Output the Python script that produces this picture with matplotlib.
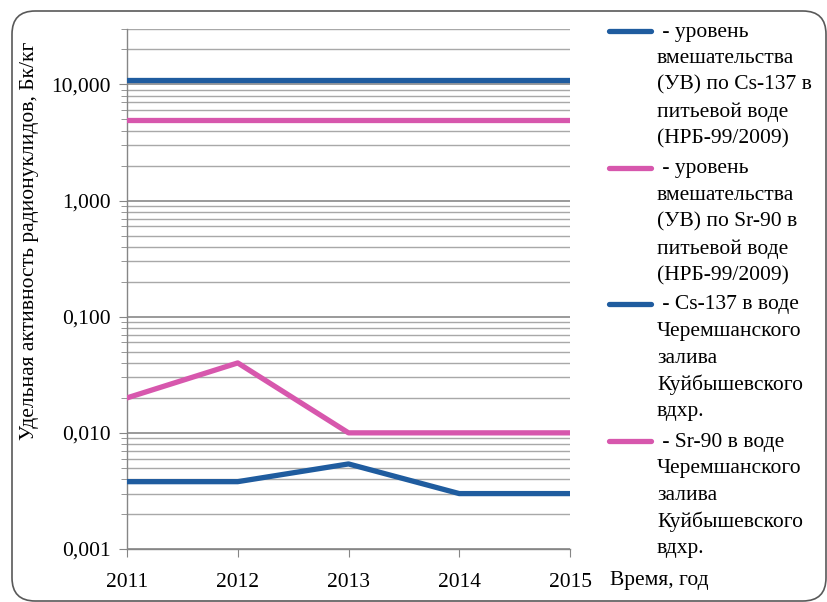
import numpy as np
import matplotlib
matplotlib.use("Agg")
import matplotlib.pyplot as plt
from matplotlib.patches import FancyBboxPatch
from matplotlib.lines import Line2D
from matplotlib.ticker import LogLocator, FuncFormatter, NullFormatter

plt.rcParams['font.family'] = ['Liberation Serif', 'DejaVu Serif']

years = [2011, 2012, 2013, 2014, 2015]
uv_cs137 = [11, 11, 11, 11, 11]
uv_sr90 = [4.9, 4.9, 4.9, 4.9, 4.9]
cs137 = [0.0038, 0.0038, 0.0054, 0.003, 0.003]
sr90 = [0.02, 0.04, 0.01, 0.01, 0.01]

labels = [
    " - уровень\nвмешательства\n(УВ) по Cs-137 в\nпитьевой воде\n(НРБ-99/2009)",
    " - уровень\nвмешательства\n(УВ) по Sr-90 в\nпитьевой воде\n(НРБ-99/2009)",
    " - Cs-137 в воде\nЧеремшанского\nзалива\nКуйбышевского\nвдхр.",
    " - Sr-90 в воде\nЧеремшанского\nзалива\nКуйбышевского\nвдхр.",
]
blue = '#1f5c9f'
pink = '#d757ad'
colors = [blue, pink, blue, pink]

fs = 15.5
W, H = 827, 602
fig = plt.figure(figsize=(8.27, 6.02), dpi=100)
ax = fig.add_axes([127/W, 1-549/H, (570-127)/W, (549-29)/H])

lw = 3.8
for ys, c in zip([uv_cs137, uv_sr90, cs137, sr90], colors):
    ax.plot(years, ys, color=c, lw=lw, solid_capstyle='round', solid_joinstyle='round', zorder=3)

ax.set_yscale('log')
ax.set_ylim(0.001, 30)
ax.set_xlim(2011, 2015)
ax.set_xticks(years)
ax.set_xticklabels([str(y) for y in years])
ax.yaxis.set_major_locator(LogLocator(base=10, numticks=10))
ax.yaxis.set_minor_locator(LogLocator(base=10, subs=np.arange(2, 10), numticks=20))
ax.yaxis.set_major_formatter(FuncFormatter(lambda v, p: f"{v:.3f}".replace('.', ',')))
ax.yaxis.set_minor_formatter(NullFormatter())

ax.grid(True, which='major', axis='y', color='#7f7f7f', lw=1.1)
ax.grid(True, which='minor', axis='y', color='#a8a8a8', lw=1.0)
ax.grid(False, axis='x')
ax.set_axisbelow(True)

for s in ['top', 'right']:
    ax.spines[s].set_visible(False)
for s in ['left', 'bottom']:
    ax.spines[s].set_color('#868686')
    ax.spines[s].set_linewidth(1.0)

ax.tick_params(axis='y', which='major', length=6, color='#868686', labelsize=fs, pad=6)
ax.tick_params(axis='y', which='minor', length=4, color='#868686')
ax.tick_params(axis='x', which='major', length=6, color='#868686', labelsize=fs, pad=11)

fig.text(30/W, 1-241/H, "Удельная активность радионуклидов, Бк/кг", fontsize=fs,
         rotation=90, ha='center', va='center')
fig.text(610/W, 1-580/H, "Время, год", fontsize=fs, ha='left', va='center')

# legend drawn by hand
item_tops = [32, 169, 305, 442]
step = 26.6
for lab, c, yt in zip(labels, colors, item_tops):
    yf = 1 - (yt - 1)/H
    fig.add_artist(Line2D([609/W, 651/W], [yf, yf], color=c, lw=lw,
                          solid_capstyle='round', transform=fig.transFigure))
    for i, line in enumerate(lab.split('\n')):
        fig.text(657/W, 1 - (yt + i*step)/H, line, fontsize=fs, ha='left', va='center')

# rounded frame
frame = FancyBboxPatch((12/W, 1/H), 814/W, 590/H,
                       boxstyle="round,pad=0,rounding_size=0.028",
                       transform=fig.transFigure, fill=False,
                       ec='#595959', lw=1.2, mutation_aspect=W/H)
fig.add_artist(frame)

fig.savefig('out.png', dpi=100)
